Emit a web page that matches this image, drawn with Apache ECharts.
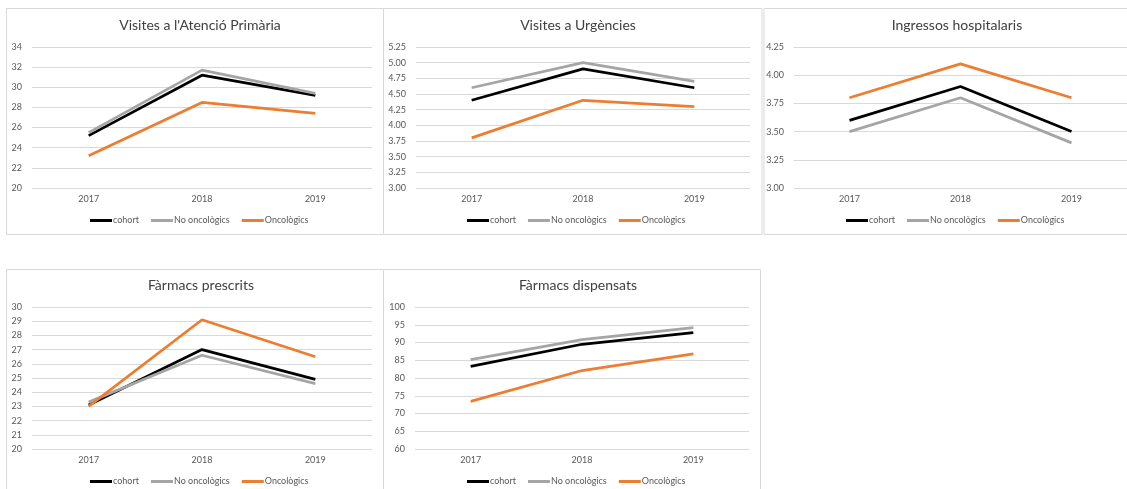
<!DOCTYPE html>
<html>
<head>
<meta charset="utf-8">
<script src="https://cdn.jsdelivr.net/npm/echarts@6/dist/echarts.min.js"></script>
<style>
  html, body { margin: 0; padding: 0; background: #ffffff; }
  #chart { width: 1127px; height: 489px; }
</style>
</head>
<body>
<div id="chart"></div>
<script>
// Years on the category axis
const years = ['2017', '2018', '2019'];
const seriesNames = ['cohort', 'No oncològics', 'Oncològics'];
const seriesColors = ['#000000', '#a5a5a5', '#ed7d31'];

const titles = [
  "Visites a l'Atenció Primària",
  'Visites a Urgències',
  'Ingressos hospitalaris',
  'Fàrmacs prescrits',
  'Fàrmacs dispensats'
];

// Values per panel: rows are cohort, No oncològics, Oncològics
const visitesAP = [
  [25.2, 31.2, 29.2],
  [25.5, 31.7, 29.4],
  [23.2, 28.5, 27.4]
];
const visitesUrgencies = [
  [4.4, 4.9, 4.6],
  [4.6, 5.0, 4.7],
  [3.8, 4.4, 4.3]
];
const ingressos = [
  [3.6, 3.9, 3.5],
  [3.5, 3.8, 3.4],
  [3.8, 4.1, 3.8]
];
const farmacsPrescrits = [
  [23.1, 27.0, 24.9],
  [23.3, 26.6, 24.6],
  [23.0, 29.1, 26.5]
];
const farmacsDispensats = [
  [83.3, 89.5, 92.8],
  [85.2, 90.8, 94.2],
  [73.4, 82.1, 86.8]
];

// Value-axis ranges: [min, max, interval, decimals]
const yRanges = [
  [20, 34, 2, 0],
  [3, 5.25, 0.25, 2],
  [3, 4.25, 0.25, 2],
  [20, 30, 1, 0],
  [60, 100, 5, 0]
];

const panelData = [visitesAP, visitesUrgencies, ingressos, farmacsPrescrits, farmacsDispensats];

// Panel frames and plot areas (pixels)
const frames = [
  { x: 6, y: 8, w: 377, h: 226 },
  { x: 383, y: 8, w: 378.5, h: 226 },
  { x: 763.5, y: 8, w: 380, h: 226 },
  { x: 6, y: 269, w: 377, h: 240 },
  { x: 383, y: 269, w: 377, h: 240 }
];
const plots = [
  { left: 32, top: 47, width: 340, height: 141 },
  { left: 416, top: 47, width: 334, height: 141 },
  { left: 794, top: 47, width: 336, height: 141 },
  { left: 32, top: 307, width: 340, height: 142 },
  { left: 415, top: 307, width: 334, height: 142 }
];
const titleCenters = [195, 573, 952, 196, 573];
const legendCenters = [196, 573, 952, 196, 573];

const FONT = 'Lato, "Open Sans", sans-serif';
const TEXT_COLOR = '#595959';

const option = {
  backgroundColor: '#ffffff',
  animation: false,
  title: [],
  legend: [],
  grid: [],
  xAxis: [],
  yAxis: [],
  series: [],
  graphic: []
};

panelData.forEach((rows, i) => {
  const f = frames[i];
  const p = plots[i];
  const r = yRanges[i];

  option.graphic.push({
    type: 'rect',
    shape: { x: f.x + 0.5, y: f.y + 0.5, width: f.w, height: f.h },
    style: { fill: 'none', stroke: '#d9d9d9', lineWidth: 1 },
    silent: true,
    z: -1
  });

  option.title.push({
    text: titles[i],
    left: titleCenters[i],
    top: p.top - 34,
    textAlign: 'center',
    textStyle: { fontFamily: FONT, fontSize: 14, fontWeight: 'normal', color: '#404040' }
  });

  option.grid.push({ left: p.left, top: p.top, width: p.width, height: p.height, containLabel: false });

  option.xAxis.push({
    type: 'category',
    gridIndex: i,
    data: years,
    boundaryGap: true,
    axisLine: { show: false },
    axisTick: { show: false },
    axisLabel: { fontFamily: FONT, fontSize: 9, color: TEXT_COLOR, margin: 7 }
  });

  option.yAxis.push({
    type: 'value',
    gridIndex: i,
    min: r[0],
    max: r[1],
    interval: r[2],
    axisLine: { show: false },
    axisTick: { show: false },
    splitLine: { lineStyle: { color: '#d9d9d9', width: 1 } },
    axisLabel: {
      fontFamily: FONT, fontSize: 9, color: TEXT_COLOR, margin: 10,
      formatter: v => v.toFixed(r[3])
    }
  });

  const names = seriesNames.map(n => n + '#' + i);
  option.legend.push({
    data: names,
    left: legendCenters[i] - 111,
    top: p.top + p.height + 23,
    itemWidth: 22,
    itemHeight: 3,
    itemGap: 12,
    icon: 'rect',
    selectedMode: false,
    formatter: name => name.split('#')[0],
    textStyle: { fontFamily: FONT, fontSize: 9, color: TEXT_COLOR, padding: [0, 0, 0, -4] }
  });

  rows.forEach((vals, s) => {
    option.series.push({
      name: names[s],
      type: 'line',
      xAxisIndex: i,
      yAxisIndex: i,
      data: vals,
      symbol: 'none',
      color: seriesColors[s],
      lineStyle: { color: seriesColors[s], width: 2.75 }
    });
  });
});

const chart = echarts.init(document.getElementById('chart'), null, { renderer: 'canvas' });
chart.setOption(option);
</script>
</body>
</html>
